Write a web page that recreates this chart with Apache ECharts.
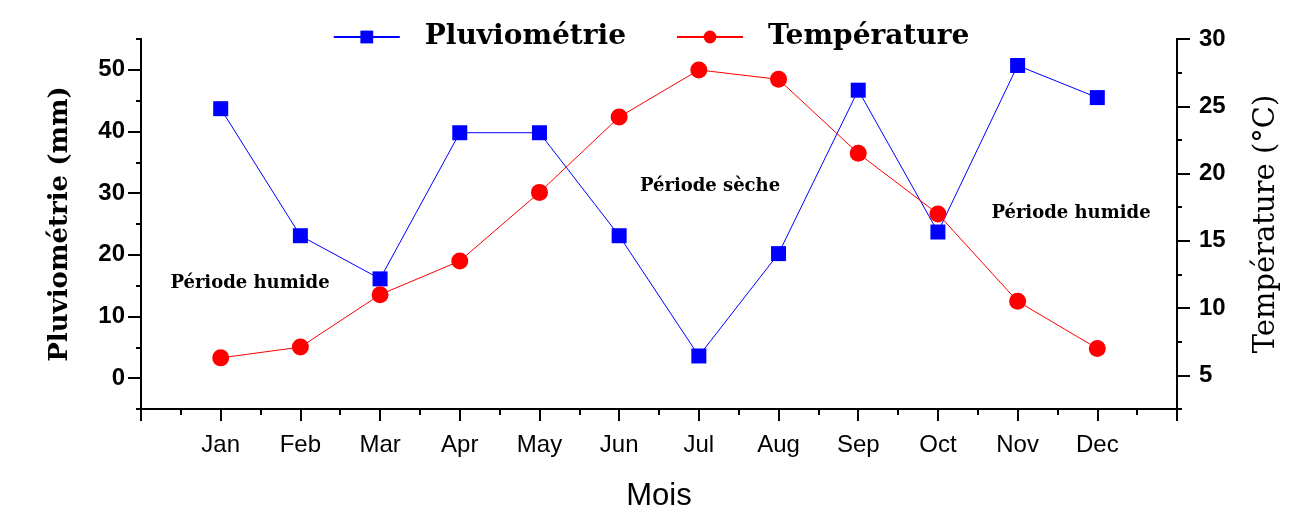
<!DOCTYPE html>
<html>
<head>
<meta charset="utf-8">
<script src="https://cdn.jsdelivr.net/npm/echarts@6/dist/echarts.min.js"></script>
<style>html,body{margin:0;padding:0;background:#fff;}#c{width:1302px;height:512px;}</style>
</head>
<body>
<div id="c"></div>
<script>
const months = ['Jan','Feb','Mar','Apr','May','Jun','Jul','Aug','Sep','Oct','Nov','Dec'];
const pluvio = [43.7, 23.1, 16.1, 39.8, 39.8, 23.1, 3.6, 20.2, 46.7, 23.7, 50.7, 45.5];
const temper = [6.3, 7.1, 11.0, 13.5, 18.6, 24.2, 27.7, 27.0, 21.5, 17.0, 10.5, 7.0];
const leftTicks = [-5, 0, 5, 10, 15, 20, 25, 30, 35, 40, 45, 50, 55];
const rightTicks = [2.5, 5, 7.5, 10, 12.5, 15, 17.5, 20, 22.5, 25, 27.5, 30];
const annotations = [
  {text: 'Période humide', x: 250, y: 283},
  {text: 'Période sèche', x: 710, y: 186},
  {text: 'Période humide', x: 1071, y: 213}
];

const serif = '"DejaVu Serif", "Liberation Serif", serif';
const sans = '"Liberation Sans", Arial, sans-serif';
const chart = echarts.init(document.getElementById('c'));
const axisLine = {show: true, onZero: false, lineStyle: {color: '#000', width: 2}};

chart.setOption({
  backgroundColor: '#fff',
  animation: false,
  grid: {left: 141, right: 125, top: 39, bottom: 103, containLabel: false, outerBoundsMode: 'none'},
  legend: {
    top: 18, left: 'center', itemWidth: 66, itemHeight: 16, itemGap: 50,
    textStyle: {fontFamily: serif, fontWeight: 'bold', fontSize: 28, color: '#000', padding: [0, 0, 0, 20]},
    data: ['Pluviométrie', 'Température']
  },
  xAxis: {
    type: 'value', min: 0, max: 13, interval: 1,
    axisLine: axisLine,
    axisTick: {show: true, length: 12, lineStyle: {color: '#000', width: 2}},
    minorTick: {show: true, splitNumber: 2, length: 6, lineStyle: {color: '#000', width: 2}},
    splitLine: {show: false}, minorSplitLine: {show: false},
    axisLabel: {
      margin: 24, fontFamily: sans, fontSize: 24, color: '#000',
      formatter: v => (v >= 1 && v <= 12) ? months[v - 1] : ''
    },
    name: 'Mois', nameLocation: 'middle', nameGap: 72,
    nameTextStyle: {fontFamily: sans, fontSize: 31, color: '#000'}
  },
  yAxis: [
    {
      type: 'value', position: 'left', min: -5, max: 55, interval: 5,
      axisLine: axisLine,
      axisTick: {show: true, length: 5, lineStyle: {color: '#000', width: 2}},
      splitLine: {show: false},
      axisLabel: {margin: 16, fontFamily: sans, fontWeight: 'bold', fontSize: 24, color: '#000',
        formatter: v => (v % 10 === 0) ? String(v) : ''},
      name: 'Pluviométrie (mm)', nameLocation: 'middle', nameGap: 68,
      nameTextStyle: {fontFamily: serif, fontWeight: 'bold', fontSize: 26, color: '#000'}
    },
    {
      type: 'value', position: 'right', min: 2.5, max: 30, interval: 2.5,
      axisLine: axisLine,
      axisTick: {show: true, length: 5, lineStyle: {color: '#000', width: 2}},
      splitLine: {show: false},
      axisLabel: {margin: 22, fontFamily: sans, fontWeight: 'bold', fontSize: 24, color: '#000',
        formatter: v => (v % 5 === 0) ? String(v) : ''},
      name: 'Température (°C)', nameLocation: 'middle', nameGap: 75,
      nameTextStyle: {fontFamily: serif, fontSize: 29, color: '#000'}
    },
    {
      type: 'category', position: 'left', boundaryGap: false, data: leftTicks.map(String),
      axisLine: axisLine, axisLabel: {show: false}, splitLine: {show: false},
      axisTick: {show: true, length: 13, interval: (i) => i % 2 === 1, lineStyle: {color: '#000', width: 2}}
    },
    {
      type: 'category', position: 'right', boundaryGap: false, data: rightTicks.map(String),
      axisLine: axisLine, axisLabel: {show: false}, splitLine: {show: false},
      axisTick: {show: true, length: 13, interval: (i) => i % 2 === 1, lineStyle: {color: '#000', width: 2}}
    }
  ],
  series: [
    {
      name: 'Pluviométrie', type: 'line', yAxisIndex: 0,
      data: pluvio.map((v, i) => [i + 1, v]),
      symbol: 'rect', symbolSize: 15,
      itemStyle: {color: '#0000ff'}, lineStyle: {color: '#0000ff', width: 1}
    },
    {
      name: 'Température', type: 'line', yAxisIndex: 1,
      data: temper.map((v, i) => [i + 1, v]),
      symbol: 'circle', symbolSize: 17,
      itemStyle: {color: '#ff0000'}, lineStyle: {color: '#ff0000', width: 1}
    }
  ],
  graphic: annotations.map(a => ({
    type: 'text', x: a.x, y: a.y,
    style: {text: a.text, fill: '#000', font: 'bold 18px ' + serif, align: 'center', verticalAlign: 'middle'}
  }))
});
</script>
</body>
</html>
